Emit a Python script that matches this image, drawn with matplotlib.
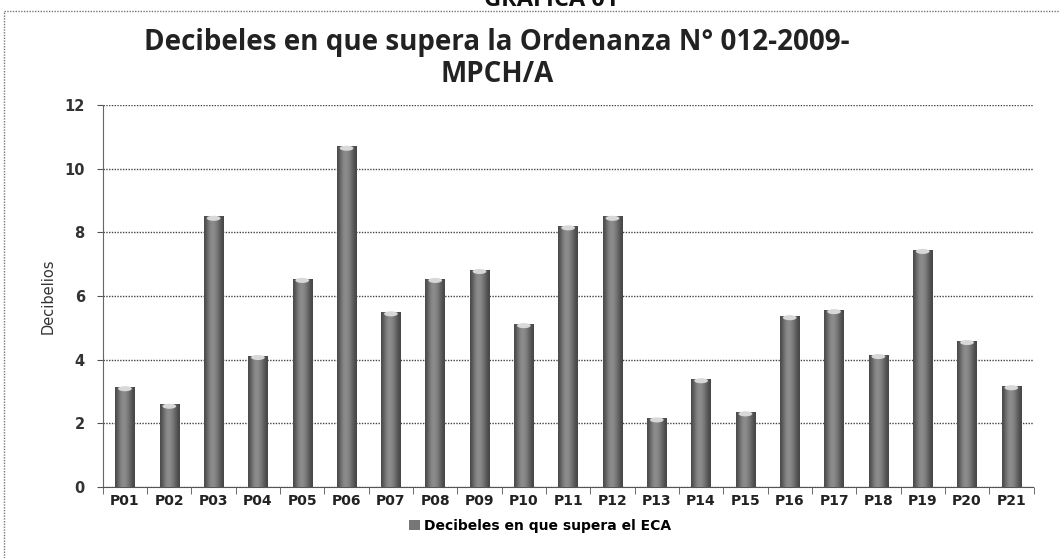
import numpy as np
import matplotlib
matplotlib.use('Agg')
import matplotlib.pyplot as plt
from matplotlib.patches import Ellipse
from matplotlib.lines import Line2D

# data
puntos = ['P01', 'P02', 'P03', 'P04', 'P05', 'P06', 'P07', 'P08', 'P09', 'P10', 'P11',
          'P12', 'P13', 'P14', 'P15', 'P16', 'P17', 'P18', 'P19', 'P20', 'P21']
decibeles = [3.15, 2.6, 8.5, 4.13, 6.55, 10.7, 5.5, 6.55, 6.83, 5.13, 8.2,
             8.5, 2.17, 3.4, 2.36, 5.38, 5.57, 4.16, 7.46, 4.6, 3.18]
serie = 'Decibeles en que supera el ECA'

plt.rcParams['font.family'] = 'DejaVu Sans'

fig = plt.figure(figsize=(10.6, 5.58), dpi=100)
ax = fig.add_axes([0.097, 0.127, 0.878, 0.685])

x = np.arange(len(puntos))
bars = ax.bar(x, decibeles, width=0.44, color='#777777', edgecolor='none', zorder=3)

# cylinder-like shading on each bar
grad = np.array([[0.30, 0.42, 0.52, 0.56, 0.52, 0.45, 0.36, 0.28]])
for b in bars:
    bx, bw, bh = b.get_x(), b.get_width(), b.get_height()
    im = ax.imshow(grad, cmap='gray', vmin=0, vmax=1, aspect='auto',
                   extent=[bx, bx + bw, 0, bh], zorder=4, interpolation='bicubic')
    im.set_clip_path(b)
    ax.add_patch(Ellipse((bx + bw / 2, bh - 0.06), bw * 0.7, 0.16,
                         facecolor='#d8d8d8', edgecolor='none', zorder=5))

ax.set_xlim(-0.5, len(puntos) - 0.5)
ax.set_ylim(0, 12)
ax.set_yticks(range(0, 13, 2))
ax.set_xticks(x)
ax.set_xticklabels(puntos, fontsize=10, fontweight='bold', color='#222222')
ax.tick_params(axis='x', length=0, pad=5)
ax.set_xticks(np.arange(-0.5, len(puntos), 1), minor=True)
ax.tick_params(axis='x', which='minor', length=5, direction='out', color='#555555')
ax.tick_params(axis='y', length=4, direction='out', color='#555555', pad=9)
for lab in ax.get_yticklabels():
    lab.set_fontsize(10.5)
    lab.set_fontweight('bold')
    lab.set_color('#333333')

ax.yaxis.grid(True, linestyle=(0, (1, 1)), color='#444444', linewidth=1.0, zorder=0)
for s in ['top', 'right']:
    ax.spines[s].set_visible(False)
ax.spines['left'].set_color('#666666')
ax.spines['bottom'].set_color('#555555')
ax.spines['bottom'].set_linestyle((0, (1, 1)))

ax.set_ylabel('Decibelios', fontsize=10.5, color='#333333', labelpad=6)

fig.text(0.469, 0.895, 'Decibeles en que supera la Ordenanza N° 012-2009-\nMPCH/A',
         ha='center', va='center', fontsize=20, fontweight='bold', family='Open Sans',
         color='#222222', linespacing=1.1)
fig.text(0.52, 1.0, 'GRAFICA 01', ha='center', va='center', fontsize=17,
         fontweight='bold', family='Open Sans', color='#111111')

# legend below the axis
leg = ax.legend([bars], [serie], loc='upper center', bbox_to_anchor=(0.47, -0.05),
                frameon=False, prop={'weight': 'bold', 'size': 10},
                handlelength=0.8, handleheight=0.8, handletextpad=0.3)

# dotted frame (top and left edges visible in the scan)
fig.lines.append(Line2D([0.004, 0.999], [0.981, 0.981], transform=fig.transFigure,
                        color='#777777', linewidth=1.0, linestyle=(0, (1, 1))))
fig.lines.append(Line2D([0.004, 0.004], [0.0, 0.981], transform=fig.transFigure,
                        color='#777777', linewidth=1.0, linestyle=(0, (1, 1))))

fig.savefig('out.png', dpi=100)
